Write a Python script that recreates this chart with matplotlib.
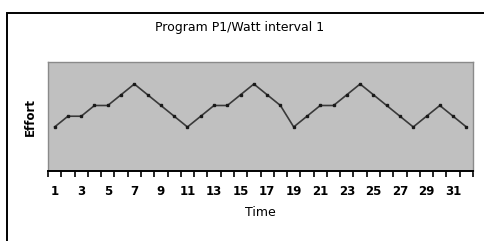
import matplotlib
matplotlib.use('Agg')
import matplotlib.pyplot as plt
from matplotlib.patches import Rectangle

# data
time = list(range(1, 33))
effort = [1, 2, 2, 3, 3, 4, 5, 4, 3, 2, 1, 2, 3, 3, 4, 5,
          4, 3, 1, 2, 3, 3, 4, 5, 4, 3, 2, 1, 2, 3, 2, 1]
tick_labels = [str(t) for t in range(1, 32, 2)]

W, H = 484., 241.
fig = plt.figure(figsize=(W / 100, H / 100), dpi=100)
fig.patch.set_facecolor('white')

# outer frame of the chart
fig.patches.append(Rectangle((7 / W, -0.2), 2.0, (H - 13) / H + 0.2,
                             transform=fig.transFigure, fill=False,
                             edgecolor='black', linewidth=1.4))

ax = fig.add_axes([48 / W, 70 / H, 425 / W, 109 / H])
ax.set_facecolor('#c0c0c0')
ax.plot(time, effort, color='#3a3a3a', linewidth=1.2,
        marker='s', markersize=1.5, markerfacecolor='#1a1a1a',
        markeredgecolor='#1a1a1a')

ax.set_xlim(0.5, 32.5)
ax.set_ylim(-3.1, 7.05)

for side in ['top', 'right', 'left']:
    ax.spines[side].set_color('#8a8a8a')
    ax.spines[side].set_linewidth(1.0)
ax.spines['bottom'].set_color('black')
ax.spines['bottom'].set_linewidth(1.4)

ax.set_yticks([])
ax.set_xticks(range(1, 32, 2))
ax.set_xticklabels(tick_labels, fontsize=8.5, fontweight='bold')
ax.set_xticks([t + 0.5 for t in range(0, 33)], minor=True)
ax.tick_params(axis='x', which='major', length=0, pad=10)
ax.tick_params(axis='x', which='minor', direction='out', length=4,
               width=1.2, color='black')

ax.set_xlabel('Time', fontsize=9, labelpad=6)
ax.set_ylabel('Effort', fontsize=8.5, fontweight='bold', labelpad=8)
fig.text(240 / W, 1 - 27 / H, 'Program P1/Watt interval 1',
         ha='center', va='center', fontsize=9)

fig.savefig('out.png', dpi=100)
